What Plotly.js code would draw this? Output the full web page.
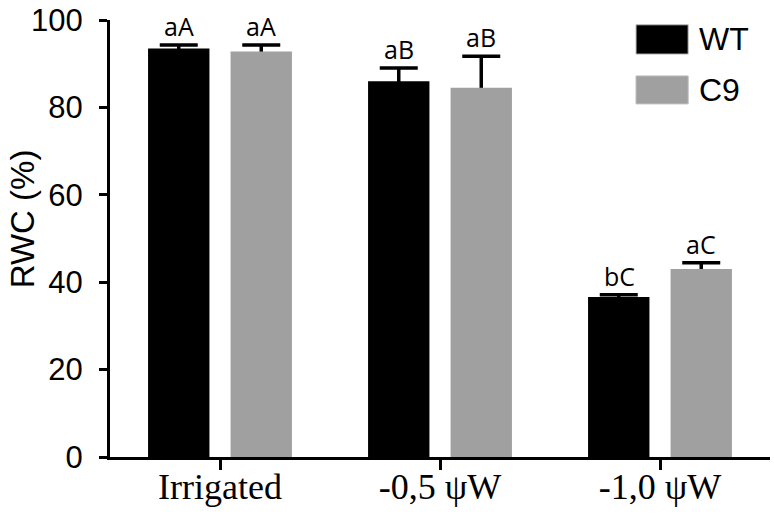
<!DOCTYPE html>
<html>
<head>
<meta charset="utf-8">
<script src="https://cdn.plot.ly/plotly-3.0.1.min.js"></script>
<style>html,body{margin:0;padding:0;background:#fff;}#chart{width:774px;height:514px;}</style>
</head>
<body>
<div id="chart"></div>
<script>
// ---- data ----
var categories = ['Irrigated', '-0,5 \u03C8W', '-1,0 \u03C8W'];
var wtValues = [93.5, 86.0, 36.6];
var wtErrors = [0.8, 3.0, 0.5];
var c9Values = [92.8, 84.5, 43.0];
var c9Errors = [1.5, 7.2, 1.45];
var wtLetters = ['aA', 'aB', 'bC'];
var c9Letters = ['aA', 'aB', 'aC'];
var seriesNames = ['WT', 'C9'];
var yTickValues = [0, 20, 40, 60, 80, 100];

// ---- style ----
var wtColor = '#000000';
var c9Color = '#a0a0a0';
var sans = 'Liberation Sans, Arial, sans-serif';
var serif = 'Liberation Serif, Times New Roman, serif';
var groupShiftPx = 41;

function errStyle(arr) {
  return {type: 'data', array: arr, symmetric: true,
          visible: true, color: '#000', thickness: 3.5, width: 19};
}

// Error bars are carried by transparent bars drawn first, so the real bars
// (same offset group) cover the lower half of each error bar.
var traces = [
  {type: 'bar', name: seriesNames[0] + ' err', x: categories, y: wtValues, offsetgroup: 'wt',
   marker: {color: 'rgba(0,0,0,0)', line: {width: 0}}, error_y: errStyle(wtErrors), showlegend: false},
  {type: 'bar', name: seriesNames[1] + ' err', x: categories, y: c9Values, offsetgroup: 'c9',
   marker: {color: 'rgba(0,0,0,0)', line: {width: 0}}, error_y: errStyle(c9Errors), showlegend: false},
  {type: 'bar', name: seriesNames[0], x: categories, y: wtValues, offsetgroup: 'wt',
   marker: {color: wtColor, line: {width: 0}}, showlegend: false},
  {type: 'bar', name: seriesNames[1], x: categories, y: c9Values, offsetgroup: 'c9',
   marker: {color: c9Color, line: {width: 0}}, showlegend: false}
];

var letterFont = {family: 'Open Sans, Noto Sans, sans-serif', size: 25, color: '#000'};
var annotations = [];
categories.forEach(function(c, i) {
  annotations.push({x: c, y: wtValues[i] + wtErrors[i], xref: 'x', yref: 'y', text: wtLetters[i],
    showarrow: false, xshift: -groupShiftPx, yshift: 0, yanchor: 'bottom', font: letterFont});
  annotations.push({x: c, y: c9Values[i] + c9Errors[i], xref: 'x', yref: 'y', text: c9Letters[i],
    showarrow: false, xshift: groupShiftPx, yshift: 0, yanchor: 'bottom', font: letterFont});
});

// y-axis title
annotations.push({xref: 'paper', yref: 'paper', x: -0.132, y: 0.546, text: 'RWC (%)',
  textangle: -90, showarrow: false, xanchor: 'center', yanchor: 'middle',
  font: {family: sans, size: 33, color: '#000'}});

// legend (drawn manually to match the large swatches)
var legendColors = [wtColor, c9Color];
var legendY = [[0.922, 0.989], [0.808, 0.872]];
var shapes = [];
seriesNames.forEach(function(n, i) {
  shapes.push({type: 'rect', xref: 'paper', yref: 'paper', x0: 0.797, x1: 0.876,
    y0: legendY[i][0], y1: legendY[i][1], fillcolor: legendColors[i],
    line: {color: '#bdbdbd', width: 1}});
  annotations.push({xref: 'paper', yref: 'paper', x: 0.889, y: (legendY[i][0] + legendY[i][1]) / 2,
    text: n, showarrow: false, xanchor: 'left', yanchor: 'middle',
    font: {family: sans, size: 32, color: '#000'}});
});

var layout = {
  width: 774, height: 514,
  margin: {l: 110, r: 4, t: 20, b: 57, pad: 0},
  paper_bgcolor: '#fff', plot_bgcolor: '#fff',
  barmode: 'group', bargap: 0.25, bargroupgap: 0.256,
  showlegend: false,
  xaxis: {type: 'category', range: [-0.5, 2.5], showgrid: false, zeroline: false,
    showline: true, linecolor: '#000', linewidth: 3,
    ticks: 'outside', ticklen: 10, tickwidth: 3, tickcolor: '#000',
    ticklabelstandoff: -14,
    tickfont: {family: serif, size: 36, color: '#000'}},
  yaxis: {range: [0, 100], showgrid: false, zeroline: false,
    showline: true, linecolor: '#000', linewidth: 3,
    ticks: 'outside', ticklen: 8, tickwidth: 3, tickcolor: '#000',
    tickmode: 'array', tickvals: yTickValues, ticktext: yTickValues.map(String),
    ticklabelstandoff: 10,
    tickfont: {family: sans, size: 31, color: '#000'}},
  annotations: annotations,
  shapes: shapes
};

Plotly.newPlot('chart', traces, layout, {displayModeBar: false, staticPlot: true});
</script>
</body>
</html>
